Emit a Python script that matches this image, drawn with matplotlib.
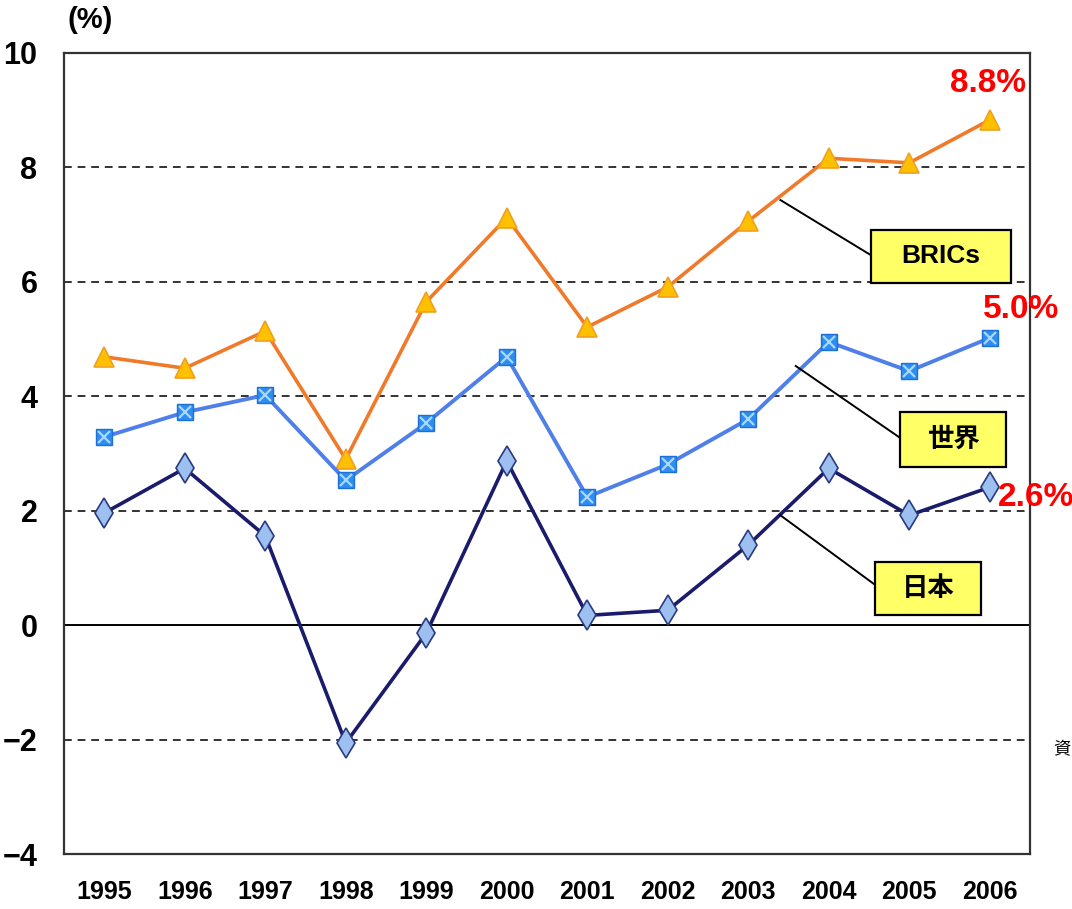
import matplotlib
matplotlib.use("Agg")
import matplotlib.pyplot as plt
from matplotlib.patches import Rectangle

years = ["1995", "1996", "1997", "1998", "1999", "2000", "2001", "2002", "2003", "2004", "2005", "2006"]
brics = [4.69, 4.49, 5.14, 2.90, 5.65, 7.12, 5.21, 5.91, 7.06, 8.16, 8.08, 8.83]
world = [3.29, 3.72, 4.02, 2.53, 3.53, 4.69, 2.24, 2.81, 3.60, 4.95, 4.44, 5.02]
japan = [1.96, 2.74, 1.56, -2.06, -0.14, 2.87, 0.17, 0.26, 1.40, 2.74, 1.92, 2.41]
series_names = ["BRICs", "世界", "日本"]
end_labels = ["8.8%", "5.0%", "2.6%"]
yticks = [-4, -2, 0, 2, 4, 6, 8, 10]

plt.rcParams['font.family'] = ['Liberation Sans', 'Noto Sans CJK JP', 'DejaVu Sans']

fig = plt.figure(figsize=(10.72, 9.09), dpi=100)
ax = fig.add_axes([0.0597, 0.0605, 0.9011, 0.8812])
x = list(range(len(years)))

for v in [-2, 2, 4, 6, 8]:
    ax.axhline(v, color="#333333", lw=1.4, ls=(0, (4, 3)), zorder=1)
ax.axhline(0, color="black", lw=1.4, zorder=1)

ax.plot(x, brics, color="#F07A2A", lw=2.6, marker="^", ms=15,
        mfc="#FFC000", mec="#F0A020", mew=1.2, zorder=3)
ax.plot(x, world, color="#4F7FE8", lw=2.8, zorder=3)
ax.plot(x, world, ls="none", marker="s", ms=12, mfc="#2E8DF0", mec="#1E6FD8", mew=1, zorder=4)
ax.plot(x, world, ls="none", marker="x", ms=9, mec="#A8D8FF", mew=1.6, zorder=5)
ax.plot(x, japan, color="#1B1B6B", lw=2.6, marker="d", ms=15,
        mfc="#9DC0F0", mec="#2A3A80", mew=1.2, zorder=3)

ax.set_xlim(-0.5, 11.5)
ax.set_ylim(-4, 10)
ax.set_yticks(yticks)
ax.set_yticklabels([f"{t}" if t >= 0 else f"\u2212{-t}" for t in yticks],
                   fontsize=22, fontweight="bold")
ax.set_xticks(x)
ax.set_xticklabels(years, fontsize=18, fontweight="bold")
ax.tick_params(axis="y", length=0, pad=19)
ax.tick_params(axis="x", length=0, pad=19)
for s in ax.spines.values():
    s.set_color("#333333")
    s.set_linewidth(1.6)

# annotation boxes with leader lines
boxes = [
    (9.52, 5.98, 1.74, 0.93, (8.40, 7.43), (9.52, 6.47)),
    (9.89, 2.76, 1.31, 0.96, (8.59, 4.53), (9.89, 3.27)),
    (9.58, 0.17, 1.31, 0.93, (8.40, 1.92), (9.58, 0.70)),
]
for name, (bx, by, bw, bh, p0, p1) in zip(series_names, boxes):
    ax.plot([p0[0], p1[0]], [p0[1], p1[1]], color="black", lw=1.4, zorder=6)
    ax.add_patch(Rectangle((bx, by), bw, bh, facecolor="#FFFF66", edgecolor="black",
                           lw=1.6, zorder=7))
    ax.text(bx + bw / 2, by + bh / 2, name, ha="center", va="center",
            fontsize=19, fontweight="bold", zorder=8)

# end value labels
label_pos = [(988, 83), (1021, 310), (1036, 497)]
for lab, (px, py) in zip(end_labels, label_pos):
    fig.text(px / 1072, 1 - py / 909, lab, color="#FF0000", fontsize=24,
             fontweight="bold", ha="center", va="center")

fig.text(90 / 1072, 1 - 20 / 909, "(%)", fontsize=21, fontweight="bold",
         ha="center", va="center")
fig.text(1053 / 1072, 1 - 748 / 909, "資", fontsize=12.5, ha="left", va="center",
         family=["Noto Sans CJK JP"])

fig.savefig("out.png", dpi=100)
